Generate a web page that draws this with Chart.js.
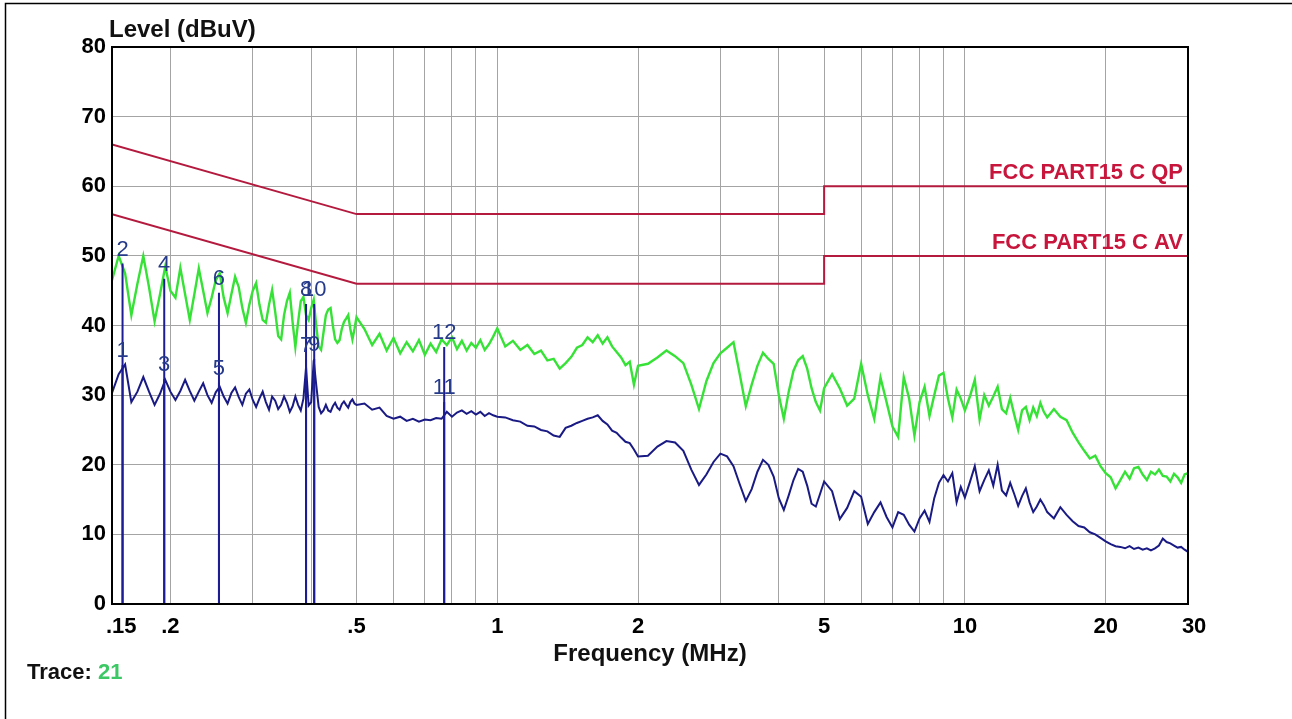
<!DOCTYPE html>
<html>
<head>
<meta charset="utf-8">
<title>Conducted emission scan</title>
<script src="https://cdn.jsdelivr.net/npm/chart.js@4.4.1/dist/chart.umd.min.js"></script>
<style>
    html, body { margin: 0; padding: 0; background: #fff; }
    canvas { display: block; }
</style>
</head>
<body>
<canvas id="myChart" width="1292" height="719"></canvas>
<script>
// Scan frequencies (MHz), shared by both traces
const freqMHz = [
    0.150, 0.155, 0.160, 0.165, 0.170, 0.175, 0.180, 0.185, 0.190, 0.195,
    0.200, 0.205, 0.210, 0.215, 0.220, 0.225, 0.230, 0.235, 0.240, 0.245,
    0.250, 0.255, 0.260, 0.265, 0.270, 0.275, 0.280, 0.285, 0.290, 0.295,
    0.300, 0.305, 0.310, 0.315, 0.320, 0.325, 0.330, 0.335, 0.340, 0.345,
    0.350, 0.355, 0.360, 0.365, 0.370, 0.375, 0.380, 0.385, 0.390, 0.395,
    0.400, 0.405, 0.410, 0.415, 0.420, 0.425, 0.430, 0.435, 0.440, 0.445,
    0.450, 0.455, 0.460, 0.465, 0.470, 0.475, 0.480, 0.485, 0.490, 0.495, 0.500,
    0.52, 0.54, 0.56, 0.58, 0.60, 0.62, 0.64, 0.66, 0.68, 0.70,
    0.72, 0.74, 0.76, 0.78, 0.80, 0.82, 0.84, 0.86, 0.88, 0.90,
    0.92, 0.94, 0.96, 0.98, 1.00,
    1.04, 1.08, 1.12, 1.16, 1.20, 1.24, 1.28, 1.32, 1.36, 1.40,
    1.44, 1.48, 1.52, 1.56, 1.60, 1.64, 1.68, 1.72, 1.76, 1.80,
    1.84, 1.88, 1.92, 1.96, 2.00,
    2.1, 2.2, 2.3, 2.4, 2.5, 2.6, 2.7, 2.8, 2.9, 3.0,
    3.1, 3.2, 3.3, 3.4, 3.5, 3.6, 3.7, 3.8, 3.9, 4.0,
    4.1, 4.2, 4.3, 4.4, 4.5, 4.6, 4.7, 4.8, 4.9, 5.0,
    5.2, 5.4, 5.6, 5.8, 6.0, 6.2, 6.4, 6.6, 6.8, 7.0,
    7.2, 7.4, 7.6, 7.8, 8.0, 8.2, 8.4, 8.6, 8.8, 9.0,
    9.2, 9.4, 9.6, 9.8, 10.0,
    10.25, 10.5, 10.75, 11, 11.25, 11.5, 11.75, 12, 12.25, 12.5,
    12.75, 13, 13.25, 13.5, 13.75, 14, 14.25, 14.5, 14.75, 15,
    15.5, 16, 16.5, 17, 17.5, 18, 18.5, 19, 19.5, 20,
    20.5, 21, 21.5, 22, 22.5, 23, 23.5, 24, 24.5, 25,
    25.5, 26, 26.5, 27, 27.5, 28, 28.5, 29, 29.5, 30
];

// Peak trace (green), dBuV
const peakLevel = [
    46.5, 50.0, 47.5, 41.5, 46.0, 50.0, 45.5, 40.6, 44.5, 48.5,
    45.0, 44.0, 48.3, 44.5, 40.8, 44.5, 48.2, 45.0, 41.8, 44.0,
    46.5, 47.5, 44.0, 41.8, 44.5, 47.0, 45.5, 42.5, 40.4, 43.0,
    45.0, 46.1, 43.0, 40.8, 40.4, 43.0, 45.1, 42.0, 38.5, 38.0,
    41.5, 43.5, 44.7, 40.5, 36.9, 40.5, 43.5, 44.1, 41.5, 40.8,
    42.5, 43.7, 40.0, 37.0, 36.5, 39.0, 41.5, 42.3, 42.5, 40.0,
    38.0, 37.5, 37.9, 39.5, 40.5, 41.0, 41.5, 39.5, 38.0, 39.5, 41.2,
    39.5, 37.2, 38.8, 36.4, 38.2, 36.0, 37.6, 36.3, 37.9, 35.8,
    37.4, 36.2, 38.0, 37.2, 38.3, 36.6, 37.8, 36.4, 37.5, 36.8,
    37.9, 36.5, 37.3, 38.4, 39.6,
    37.0, 37.8, 36.5, 37.2, 35.9, 36.4, 35.0, 35.2, 33.8, 34.6,
    35.5, 36.8, 37.2, 38.3, 37.6, 38.6, 37.4, 38.3, 37.0, 36.2,
    35.4, 34.3, 34.8, 31.5, 34.2,
    34.5, 35.4, 36.4, 35.6, 34.6, 31.5, 28.0, 32.0, 34.6, 36.0,
    36.8, 37.6, 33.0, 28.4, 31.5, 34.2, 36.1, 35.2, 34.5, 30.0,
    26.6, 30.5, 33.5, 35.0, 35.6, 33.8, 31.0, 29.0, 27.8, 31.0,
    33.0, 31.0, 28.5, 29.5, 34.5, 30.0, 26.6, 32.5, 29.0, 25.5,
    24.0, 32.6, 29.5, 24.2, 29.0, 31.2, 27.0, 30.0, 32.8, 33.2,
    29.5, 26.8, 30.8, 29.5, 27.8,
    29.8, 32.2, 26.5, 30.0, 28.5, 29.8, 31.2, 28.0, 27.4, 29.6,
    27.2, 25.0, 27.8, 28.3, 26.4, 28.2, 27.0, 28.9, 27.6, 26.8,
    28.0, 26.9, 26.4, 24.6, 23.2, 22.0, 20.9, 21.3, 19.8, 18.8,
    18.2, 16.6, 17.8, 19.0, 18.0, 19.5, 19.7, 18.6, 17.8, 19.0,
    18.6, 19.3, 18.4, 18.3, 17.6, 18.7, 18.2, 17.4, 18.6, 18.8
];

// Average trace (blue), dBuV
const avgLevel = [
    30.3, 33.0, 34.4, 29.0, 30.5, 32.6, 30.5, 28.6, 30.2, 32.2,
    30.5, 29.3, 30.6, 32.2, 30.6, 29.2, 30.5, 31.7, 30.0, 28.9,
    30.4, 31.2, 29.8, 28.8, 30.3, 31.1, 29.7, 28.6, 30.2, 30.8,
    29.3, 28.3, 29.5, 30.5, 29.0, 27.9, 29.8, 29.2, 28.0, 28.6,
    29.8, 28.9, 27.6, 28.4, 29.8, 28.6, 27.8, 29.5, 34.0, 28.5,
    29.0, 35.0, 31.5, 28.3, 27.4, 27.8, 28.6, 27.8, 27.6, 28.4,
    28.9, 28.2, 27.9, 28.7, 29.1, 28.6, 28.2, 29.0, 29.4, 28.8, 28.6,
    28.8, 27.9, 28.2, 27.0, 26.6, 26.9, 26.3, 26.6, 26.2, 26.5,
    26.4, 26.7, 26.6, 27.6, 26.9, 27.5, 27.8, 27.3, 27.7, 27.2,
    27.6, 27.0, 27.4, 27.1, 26.9,
    26.8, 26.4, 26.2, 25.6, 25.5, 25.0, 24.8, 24.2, 24.0, 25.3,
    25.6, 26.0, 26.3, 26.6, 26.8, 27.1, 26.3, 25.8, 24.9, 24.6,
    23.9, 23.3, 23.1, 22.2, 21.2,
    21.3, 22.6, 23.4, 23.2, 22.0, 19.3, 17.1, 18.6, 20.4, 21.6,
    21.2, 19.8, 17.2, 14.8, 16.5, 19.0, 20.7, 20.0, 18.3, 15.2,
    13.5, 15.6, 17.8, 19.4, 19.0, 17.0, 14.4, 14.0, 15.8, 17.6,
    16.2, 12.2, 13.8, 16.2, 15.4, 11.5, 13.2, 14.6, 12.5, 11.0,
    13.2, 12.8, 11.4, 10.4, 12.3, 13.4, 11.8, 15.2, 17.4, 18.5,
    17.6, 18.8, 14.6, 16.8, 15.3,
    17.5, 19.8, 16.2, 17.8, 19.2, 17.0, 20.0, 16.3, 15.6, 17.4,
    15.8, 14.1, 15.5, 16.6, 14.6, 13.2, 14.0, 15.0, 14.2, 13.2,
    12.3, 13.9, 12.8, 11.9, 11.2, 11.0, 10.3, 10.0, 9.5, 9.0,
    8.6, 8.3, 8.2, 8.0, 8.3, 7.9, 8.1, 7.8, 8.0, 7.7,
    8.0, 8.4, 9.4, 8.9, 8.7, 8.4, 8.1, 8.2, 7.8, 7.5
];

// FCC Part 15 C limit lines
const limitFreq = [0.15, 0.5, 5, 5, 30];
const qpLimit = [66, 56, 56, 60, 60];
const avLimit = [56, 46, 46, 50, 50];

// Final measurement markers (odd = AV, even = QP)
const markerNo = [1, 2, 3, 4, 5, 6, 7, 8, 9, 10, 11, 12];
const markerFreq = [0.158, 0.158, 0.194, 0.194, 0.254, 0.254, 0.390, 0.390, 0.406, 0.406, 0.770, 0.770];
const markerLevel = [34.3, 48.9, 32.3, 46.7, 31.8, 44.7, 35.1, 43.1, 35.2, 43.1, 29.0, 36.9];

// x axis grid lines and labels
const gridFreqs = [0.15, 0.2, 0.3, 0.4, 0.5, 0.6, 0.7, 0.8, 0.9, 1, 2, 3, 4, 5, 6, 7, 8, 9, 10, 20, 30];
const labelFreqs = [0.15, 0.2, 0.5, 1, 2, 5, 10, 20, 30];
const labelText = ['   .15', '.2', '.5', '1', '2', '5', '10', '20', '  30'];

const FONT = '"Liberation Sans", Arial, sans-serif';

const toPoints = (xs, ys) => xs.map((x, i) => ({ x: x, y: ys[i] }));

// Draws the texts around the plot
const labelsPlugin = {
    id: 'labels',
    afterDraw(chart) {
        const { ctx, chartArea: a, scales: { x, y } } = chart;
        ctx.save();

        // plot frame
        ctx.strokeStyle = '#000';
        ctx.lineWidth = 2;
        ctx.strokeRect(a.left, a.top, a.right - a.left, a.bottom - a.top);

        // outer frame
        ctx.lineWidth = 1.5;
        ctx.beginPath();
        ctx.moveTo(5.5, 719);
        ctx.lineTo(5.5, 3.5);
        ctx.lineTo(1292, 3.5);
        ctx.stroke();

        // marker numbers
        ctx.font = '22px ' + FONT;
        ctx.fillStyle = '#263a8a';
        ctx.textAlign = 'center';
        ctx.textBaseline = 'alphabetic';
        markerFreq.forEach((f, i) => {
            ctx.fillText(String(markerNo[i]), x.getPixelForValue(f), y.getPixelForValue(markerLevel[i]) - 8);
        });

        // y axis title
        ctx.font = 'bold 24px ' + FONT;
        ctx.fillStyle = '#111';
        ctx.textAlign = 'left';
        ctx.fillText('Level (dBuV)', a.left - 3, a.top - 10);

        // limit names
        ctx.font = 'bold 22px ' + FONT;
        ctx.fillStyle = '#c8153c';
        ctx.textAlign = 'right';
        ctx.fillText('FCC PART15 C QP', a.right - 5, y.getPixelForValue(60) - 7);
        ctx.fillText('FCC PART15 C AV', a.right - 5, y.getPixelForValue(50) - 7);

        // trace number
        ctx.font = 'bold 22px ' + FONT;
        ctx.textAlign = 'left';
        ctx.fillStyle = '#111';
        ctx.fillText('Trace: ', 27, 679);
        const w = ctx.measureText('Trace: ').width;
        ctx.fillStyle = '#3cc864';
        ctx.fillText('21', 27 + w, 679);

        ctx.restore();
    }
};

function createChart() {
    const ctx = document.getElementById('myChart');

    const markerSets = markerFreq.map((f, i) => ({
        label: 'M' + markerNo[i],
        data: [{ x: f, y: 0 }, { x: f, y: markerLevel[i] }],
        borderColor: '#1c1c94',
        borderWidth: 2
    }));

    new Chart(ctx, {
        type: 'line',
        data: {
            datasets: [
                ...markerSets,
                {
                    label: 'AV',
                    data: toPoints(freqMHz, avgLevel),
                    borderColor: '#1a1a84',
                    borderWidth: 2
                },
                {
                    label: 'Peak',
                    data: toPoints(freqMHz, peakLevel),
                    borderColor: '#36e236',
                    borderWidth: 2.4
                },
                {
                    label: 'FCC PART15 C QP',
                    data: toPoints(limitFreq, qpLimit),
                    borderColor: '#b31a3e',
                    borderWidth: 2
                },
                {
                    label: 'FCC PART15 C AV',
                    data: toPoints(limitFreq, avLimit),
                    borderColor: '#b31a3e',
                    borderWidth: 2
                }
            ]
        },
        options: {
            responsive: false,
            animation: false,
            devicePixelRatio: 1,
            layout: { padding: { left: 0, top: 47, right: 104, bottom: 0 } },
            elements: {
                point: { radius: 0 },
                line: { tension: 0 }
            },
            scales: {
                x: {
                    type: 'logarithmic',
                    min: 0.15,
                    max: 30,
                    afterBuildTicks: s => { s.ticks = gridFreqs.map(v => ({ value: v })); },
                    afterFit: s => { s.height = 115; },
                    grid: { color: '#a4a4a4', lineWidth: 1, drawTicks: false },
                    border: { display: false },
                    ticks: {
                        autoSkip: false,
                        maxRotation: 0,
                        padding: 10,
                        color: '#000',
                        font: { family: FONT, size: 22, weight: 'bold' },
                        callback: v => {
                            const i = labelFreqs.indexOf(v);
                            return i >= 0 ? labelText[i] : '';
                        }
                    },
                    title: {
                        display: true,
                        text: 'Frequency (MHz)',
                        color: '#111',
                        font: { family: FONT, size: 24, weight: 'bold' },
                        padding: { top: 0, bottom: 50 }
                    }
                },
                y: {
                    min: 0,
                    max: 80,
                    afterFit: s => { s.width = 112; },
                    grid: { color: '#a4a4a4', lineWidth: 1, drawTicks: false },
                    border: { display: false },
                    ticks: {
                        stepSize: 10,
                        padding: 6,
                        color: '#000',
                        font: { family: FONT, size: 22, weight: 'bold' }
                    }
                }
            },
            plugins: {
                legend: { display: false },
                tooltip: { enabled: false }
            }
        },
        plugins: [labelsPlugin]
    });
}
createChart();
</script>
</body>
</html>
